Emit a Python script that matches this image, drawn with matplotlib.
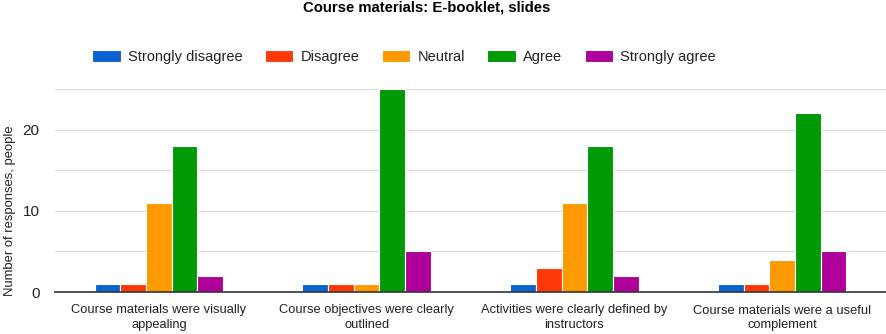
import matplotlib.pyplot as plt
import numpy as np

plt.rcParams['font.family'] = ['Liberation Sans', 'DejaVu Sans']

categories = ['Course materials were visually\nappealing',
              'Course objectives were clearly\noutlined',
              'Activities were clearly defined by\ninstructors',
              'Course materials were a useful\ncomplement']
series = ['Strongly disagree', 'Disagree', 'Neutral', 'Agree', 'Strongly agree']
strongly_disagree = [1, 1, 1, 1]
disagree = [1, 1, 3, 1]
neutral = [11, 1, 11, 4]
agree = [18, 25, 18, 22]
strongly_agree = [2, 5, 2, 5]
values = [strongly_disagree, disagree, neutral, agree, strongly_agree]
colors = ['#0b63d1', '#ff3a06', '#ff9900', '#009a06', '#b0009c']

fig = plt.figure(figsize=(8.86, 3.34), dpi=100)
ax = fig.add_axes([55/886, 42/334, 831/886, 203/334])

x = np.arange(len(categories))
w = 0.1235
for i, (name, vals) in enumerate(zip(series, values)):
    ax.bar(x + (i - 2) * w, vals, width=w, color=colors[i], edgecolor='white',
           linewidth=0.8, label=name, zorder=3)

ax.set_xlim(-0.5, 3.5)
ax.set_ylim(0, 25)
ax.set_yticks([0, 5, 10, 15, 20, 25])
ax.set_yticklabels(['0', '', '10', '', '20', ''])
ax.grid(axis='y', color='#dddddd', linewidth=1, zorder=0)
for s in ['top', 'right', 'left']:
    ax.spines[s].set_visible(False)
ax.spines['bottom'].set_color('#333333')
ax.spines['bottom'].set_linewidth(1.2)
ax.spines['bottom'].set_zorder(4)
ax.tick_params(axis='both', length=0, colors='#222222')
ax.tick_params(axis='x', labelsize=9.3, pad=9)
ax.tick_params(axis='y', labelsize=11, pad=11)
ax.set_xticks(x)
ax.set_xticklabels(categories, linespacing=1.25)
ax.set_ylabel('Number of responses, people', fontsize=9.4, color='#222222')
ax.yaxis.set_label_coords(-39/831, 0.4)

fig.text(427/886, 1 - 8/334, 'Course materials: E-booklet, slides', ha='center', va='center',
         fontsize=10.7, fontweight='bold', color='#000000')

handles, labels = ax.get_legend_handles_labels()
fig.legend(handles, labels, loc='center', bbox_to_anchor=(404/886, 1 - 57/334), ncol=5,
           frameon=False, fontsize=10.5, handlelength=1.95, handleheight=0.85,
           handletextpad=0.48, columnspacing=1.55, labelcolor='#222222')

fig.savefig('out.png', dpi=100)
